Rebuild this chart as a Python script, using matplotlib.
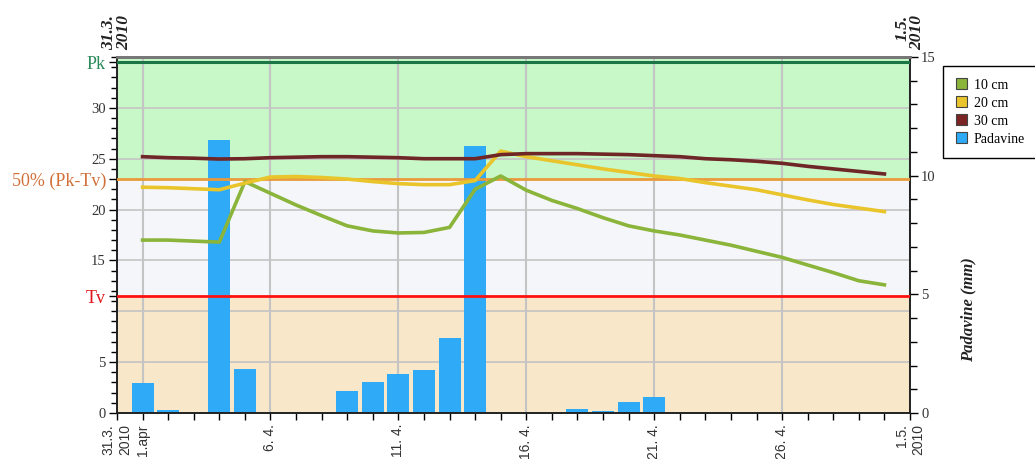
import matplotlib
matplotlib.use('Agg')
import matplotlib.dates as mdates
import pandas as pd
from matplotlib import pyplot as plt
from matplotlib.patches import Patch, Rectangle
from matplotlib.transforms import blended_transform_factory

# daily values, 1.4.2010 .. 30.4.2010
days = pd.date_range('2010-04-01', '2010-04-30')
padavine = [1.27, 0.13, 0.0, 11.5, 1.85, 0.0, 0.0, 0.0, 0.93, 1.31,
            1.64, 1.81, 3.16, 11.25, 0.0, 0.0, 0.0, 0.17, 0.08, 0.46,
            0.67, 0.0, 0.0, 0.0, 0.0, 0.0, 0.0, 0.0, 0.0, 0.0]
vlaga_10 = [17.0, 17.0, 16.9, 16.8, 22.75, 21.6, 20.45, 19.4, 18.4, 17.9,
            17.7, 17.75, 18.25, 22.0, 23.3, 21.9, 20.9, 20.1, 19.2, 18.4,
            17.9, 17.5, 17.0, 16.5, 15.9, 15.3, 14.55, 13.8, 13.0, 12.6]
vlaga_20 = [22.2, 22.15, 22.05, 21.95, 22.6, 23.2, 23.25, 23.15, 23.0, 22.75,
            22.55, 22.45, 22.45, 22.85, 25.75, 25.2, 24.8, 24.4, 24.0, 23.65,
            23.3, 23.05, 22.65, 22.3, 21.95, 21.45, 20.95, 20.5, 20.15, 19.8]
vlaga_30 = [25.2, 25.1, 25.05, 24.97, 25.0, 25.1, 25.15, 25.2, 25.2, 25.15,
            25.1, 25.0, 25.0, 25.0, 25.4, 25.5, 25.5, 25.5, 25.45, 25.4,
            25.3, 25.2, 25.0, 24.9, 24.75, 24.55, 24.25, 24.0, 23.75, 23.5]

PK = 34.5
TV = 11.5
MID = (PK + TV) / 2

tick_dates = ['2010-03-31', '2010-04-01', '2010-04-06', '2010-04-11',
              '2010-04-16', '2010-04-21', '2010-04-26', '2010-05-01']
tick_labels = ['31.3.\n2010', '1.apr', '6. 4.', '11. 4.', '16. 4.',
               '21. 4.', '26. 4.', '1.5.\n2010']

SERIF = 'Liberation Serif'
SANS = 'Liberation Sans'
GRID = '#c4c4c4'

fig = plt.figure(figsize=(10.35, 4.59), dpi=100)
axp = fig.add_axes([117 / 1035, 46 / 459, 793 / 1035, 356 / 459])
axl = axp.twinx()
axl.yaxis.tick_left()
axl.yaxis.set_label_position('left')
axp.yaxis.tick_right()

axl.set_ylim(0, 35)
axp.set_ylim(0, 15)
axp.set_xlim(pd.Timestamp('2010-03-31'), pd.Timestamp('2010-05-01'))

# background bands (in soil-moisture units)
trans = blended_transform_factory(axp.transAxes, axl.transData)
for lo, hi, col in [(0, TV, '#f8e7c9'), (TV, MID, '#f5f6fa'), (MID, 35, '#c8f7c8')]:
    axp.add_patch(Rectangle((0, lo), 1, hi - lo, transform=trans,
                            facecolor=col, edgecolor='none', zorder=0))
for v in range(5, 35, 5):
    axp.plot([0, 1], [v, v], transform=trans, color=GRID, lw=1.2, zorder=0.5)

axp.set_xticks(mdates.date2num(pd.to_datetime(tick_dates)))
axp.set_xticklabels(tick_labels, rotation=90, family=SANS, fontsize=10,
                    color='#333333', va='top', ha='center', multialignment='right')
axp.xaxis.set_minor_locator(mdates.DayLocator())
axp.grid(axis='x', color=GRID, lw=1.5, zorder=0.5)
axp.set_axisbelow(True)

axp.bar(days, padavine, width=0.86, color='#2eaaf7', zorder=2)

axl.axhline(PK, color='#1b7645', lw=2.2, zorder=3)
axl.axhline(MID, color='#e99a3a', lw=2.0, zorder=3)
axl.axhline(TV, color='#ff1010', lw=2.0, zorder=3)

axl.plot(days, vlaga_10, color='#8ab43a', lw=2.6, zorder=4)
axl.plot(days, vlaga_20, color='#e9c52b', lw=2.6, zorder=4)
axl.plot(days, vlaga_30, color='#6e2626', lw=2.6, zorder=4)

# left axis
axl.set_yticks([0, 5, 15, 20, 25, 30, TV, MID, PK])
axl.set_yticklabels(['0', '5', '15', '20', '25', '30', 'Tv', '50% (Pk-Tv)', 'Pk'],
                    family=SERIF, fontsize=10.5, color='#333333')
lab_colors = {'Tv': '#e0161e', '50% (Pk-Tv)': '#d2703a', 'Pk': '#2a8a5a'}
for t in axl.get_yticklabels():
    if t.get_text() in lab_colors:
        t.set_color(lab_colors[t.get_text()])
        t.set_fontsize(13)
axl.set_yticks(range(0, 36), minor=True)
axl.tick_params(axis='y', which='major', length=6, width=1, pad=2)
axl.tick_params(axis='y', which='minor', length=4, width=1)

# right axis
axp.set_yticks([0, 5, 10, 15])
axp.set_yticklabels(['0', '5', '10', '15'], family=SERIF, fontsize=10.5, color='#333333')
axp.set_yticks(range(0, 16), minor=True)
axp.tick_params(axis='y', which='major', length=6, width=1, pad=2)
axp.tick_params(axis='y', which='minor', length=5, width=1)
axp.tick_params(axis='x', which='both', length=5, width=1, pad=3)

for ax in (axp, axl):
    for side in ('left', 'right', 'bottom'):
        ax.spines[side].set_color('#222222')
        ax.spines[side].set_linewidth(1.2)
    ax.spines['top'].set_color('#777777')
    ax.spines['top'].set_linewidth(2)

# top date labels
ttrans = blended_transform_factory(axp.transData, axp.transAxes)
for d, lbl in [('2010-03-31', '31.3.\n2010'), ('2010-05-01', '1.5.\n2010')]:
    axp.text(mdates.date2num(pd.Timestamp(d)), 1.02, lbl, transform=ttrans,
             rotation=90, ha='center', va='bottom', multialignment='right',
             family=SERIF, fontsize=12.5, fontweight='bold', style='italic',
             color='#222222', linespacing=0.95)

fig.text(968 / 1035, 1 - 310 / 459, 'Padavine (mm)', rotation=90,
         ha='center', va='center', family=SERIF, fontsize=12,
         fontweight='bold', style='italic', color='#222222')

handles = [Patch(facecolor='#8ab43a', edgecolor='#444444', lw=0.8, label='10 cm'),
           Patch(facecolor='#e9c52b', edgecolor='#444444', lw=0.8, label='20 cm'),
           Patch(facecolor='#7a2424', edgecolor='#444444', lw=0.8, label='30 cm'),
           Patch(facecolor='#2eaaf7', edgecolor='#444444', lw=0.8, label='Padavine')]
leg = fig.legend(handles=handles, loc='upper left',
                 bbox_to_anchor=(943 / 1035, 1 - 66 / 459),
                 prop={'family': SERIF, 'size': 10}, handlelength=0.8,
                 handleheight=0.8, handletextpad=0.5, labelspacing=0.35,
                 borderpad=0.9, borderaxespad=0, fancybox=False,
                 edgecolor='black', framealpha=1)
leg.get_frame().set_linewidth(1)

fig.savefig('out.png', dpi=100)
